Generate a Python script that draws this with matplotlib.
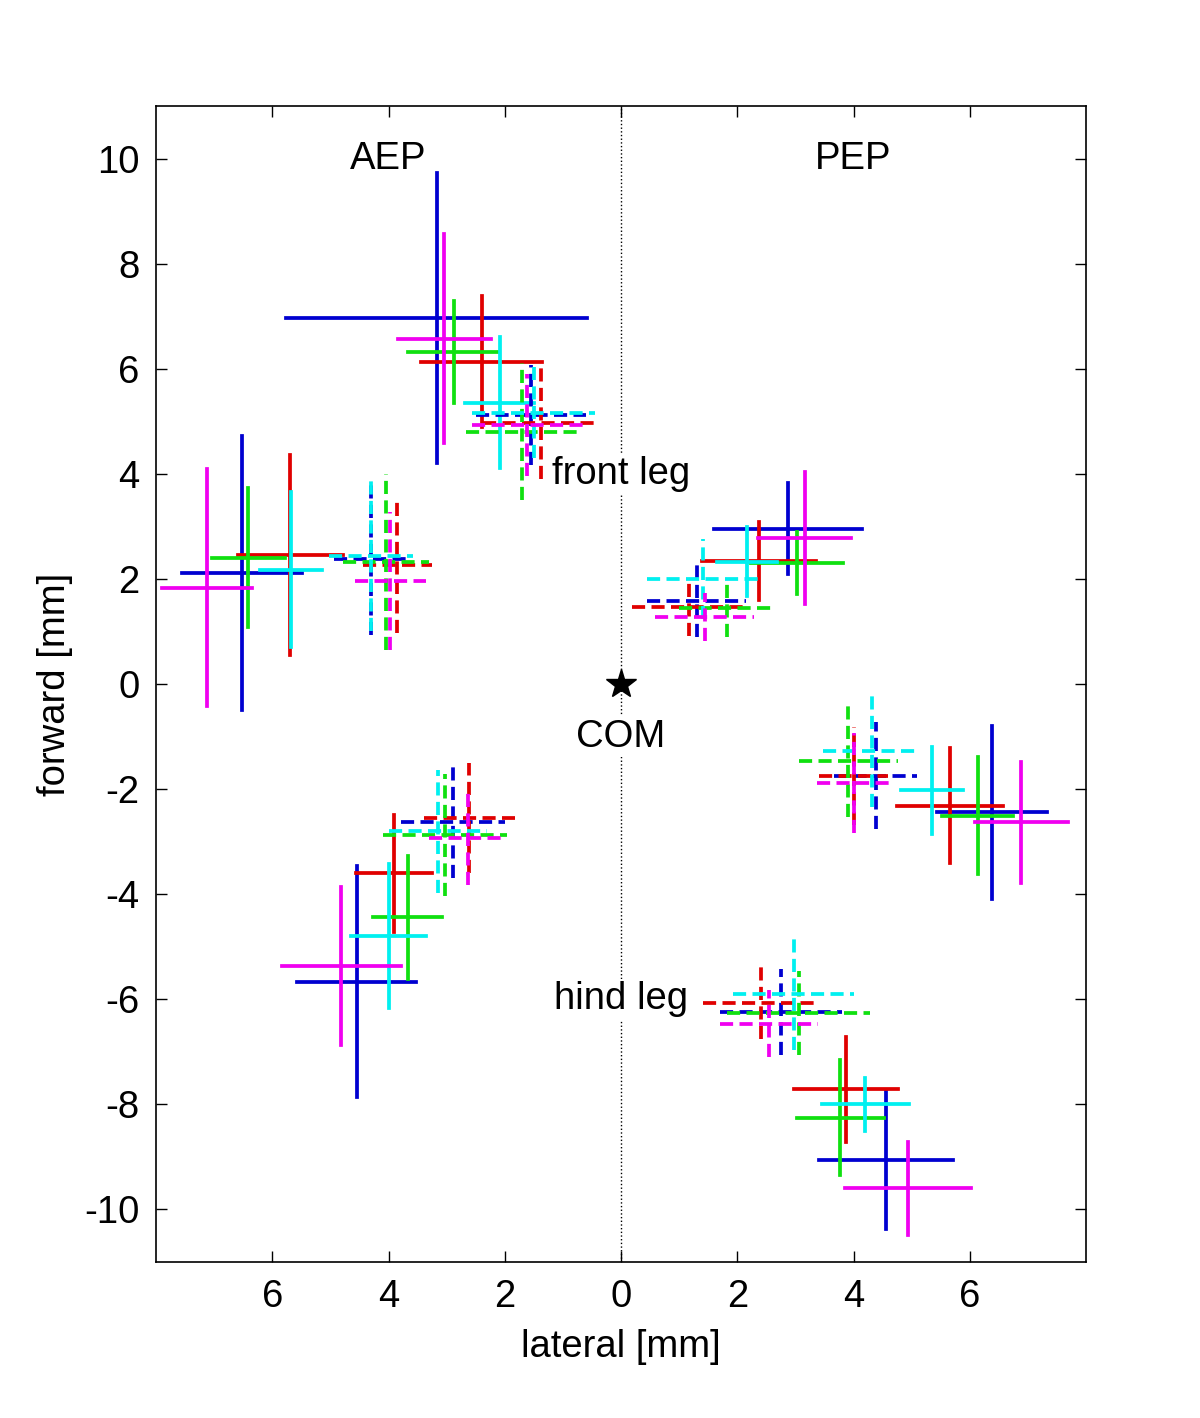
import matplotlib
matplotlib.use("Agg")
import matplotlib.pyplot as plt

plt.rcParams['font.family'] = ['Liberation Sans', 'DejaVu Sans']
plt.rcParams['axes.unicode_minus'] = False

# colour order of every group: blue, red, green, cyan, magenta
colors = ['#0000d0', '#e00000', '#10e010', '#00f0f0', '#f000f0']

# AEP (left half, lateral < 0) -- x, y, half width, half height
aep_front_solid = dict(x=[-3.17, -2.40, -2.88, -2.09, -3.04], y=[6.98, 6.14, 6.33, 5.36, 6.58],
                       sx=[2.59, 1.04, 0.78, 0.59, 0.80], sy=[2.76, 1.25, 0.97, 1.25, 1.99])
aep_front_dash = dict(x=[-1.55, -1.38, -1.70, -1.50, -1.61], y=[5.13, 4.97, 4.81, 5.17, 4.94],
                      sx=[0.94, 1.00, 0.96, 1.06, 0.96], sy=[0.95, 1.07, 1.31, 0.87, 0.97])
aep_mid_solid = dict(x=[-6.52, -5.69, -6.41, -5.68, -7.12], y=[2.12, 2.46, 2.41, 2.18, 1.84],
                     sx=[1.03, 0.90, 0.63, 0.53, 0.78], sy=[2.61, 1.91, 1.33, 1.47, 2.26])
aep_mid_dash = dict(x=[-4.30, -3.85, -4.05, -4.30, -3.97], y=[2.39, 2.27, 2.33, 2.44, 1.96],
                    sx=[0.63, 0.59, 0.74, 0.73, 0.61], sy=[1.45, 1.30, 1.68, 1.42, 1.31])
aep_hind_solid = dict(x=[-4.55, -3.91, -3.67, -4.00, -4.81], y=[-5.66, -3.60, -4.44, -4.79, -5.36],
                      sx=[1.03, 0.65, 0.59, 0.64, 1.02], sy=[2.20, 1.11, 1.17, 1.37, 1.50])
aep_hind_dash = dict(x=[-2.89, -2.61, -3.03, -3.15, -2.64], y=[-2.63, -2.55, -2.87, -2.80, -2.93],
                     sx=[0.89, 0.78, 1.07, 0.85, 0.67], sy=[1.06, 1.05, 1.16, 1.17, 0.89])

# PEP (right half, lateral > 0)
pep_front_solid = dict(x=[2.87, 2.38, 3.03, 2.17, 3.16], y=[2.96, 2.34, 2.30, 2.33, 2.78],
                       sx=[1.27, 0.98, 0.79, 0.52, 0.80], sy=[0.87, 0.74, 0.59, 0.66, 1.25])
pep_front_dash = dict(x=[1.30, 1.17, 1.83, 1.41, 1.44], y=[1.59, 1.46, 1.45, 2.00, 1.28],
                      sx=[0.85, 0.98, 0.84, 0.97, 0.85], sy=[0.69, 0.55, 0.56, 0.76, 0.45])
pep_mid_solid = dict(x=[6.38, 5.66, 6.14, 5.35, 6.89], y=[-2.44, -2.31, -2.50, -2.02, -2.63],
                     sx=[0.95, 0.92, 0.61, 0.53, 0.80], sy=[1.64, 1.09, 1.11, 0.83, 1.15])
pep_mid_dash = dict(x=[4.38, 4.00, 3.91, 4.31, 4.00], y=[-1.74, -1.75, -1.46, -1.27, -1.88],
                    sx=[0.72, 0.60, 0.85, 0.83, 0.62], sy=[1.02, 0.93, 1.06, 1.06, 0.95])
pep_hind_solid = dict(x=[4.56, 3.87, 3.77, 4.20, 4.94], y=[-9.05, -7.71, -8.25, -8.00, -9.60],
                      sx=[1.16, 0.89, 0.75, 0.75, 1.09], sy=[1.33, 1.00, 1.10, 0.51, 0.89])
pep_hind_dash = dict(x=[2.76, 2.41, 3.06, 2.97, 2.55], y=[-6.24, -6.07, -6.26, -5.90, -6.46],
                     sx=[1.05, 1.00, 1.23, 1.04, 0.84], sy=[0.82, 0.69, 0.80, 1.06, 0.63])

solid_groups = [aep_front_solid, aep_mid_solid, aep_hind_solid,
                pep_front_solid, pep_mid_solid, pep_hind_solid]
dash_groups = [aep_front_dash, aep_mid_dash, aep_hind_dash,
               pep_front_dash, pep_mid_dash, pep_hind_dash]

xticks = [-6, -4, -2, 0, 2, 4, 6]
xticklabels = ['6', '4', '2', '0', '2', '4', '6']
yticks = [-10, -8, -6, -4, -2, 0, 2, 4, 6, 8, 10]

fig = plt.figure(figsize=(12, 14.18), dpi=100)
ax = fig.add_axes([0.13, 0.11, 0.775, 0.815])

ax.plot([0, 0], [-11, 11], color='k', linestyle=':', lw=1.0, zorder=1)


def cross(g, ls):
    for i, c in enumerate(colors):
        x, y, sx, sy = g['x'][i], g['y'][i], g['sx'][i], g['sy'][i]
        ax.plot([x - sx, x + sx], [y, y], color=c, lw=2.7, linestyle=ls, zorder=2)
        ax.plot([x, x], [y - sy, y + sy], color=c, lw=2.7, linestyle=ls, zorder=2)


for g in solid_groups:
    cross(g, '-')
for g in dash_groups:
    cross(g, (0, (3.5, 1.7)))

ax.plot([0], [0], marker='*', color='k', markersize=22, zorder=4)

fs = 27.5
box = dict(facecolor='white', edgecolor='none', pad=2)
ax.text(-4, 10, 'AEP', ha='center', va='center', fontsize=fs)
ax.text(4, 10, 'PEP', ha='center', va='center', fontsize=fs)
ax.text(0, 4, 'front leg', ha='center', va='center', fontsize=fs, bbox=box, zorder=3)
ax.text(0, -1, 'COM', ha='center', va='center', fontsize=fs, bbox=box, zorder=3)
ax.text(0, -6, 'hind leg', ha='center', va='center', fontsize=fs, bbox=box, zorder=3)

ax.set_xlim(-8, 8)
ax.set_ylim(-11, 11)
ax.set_xticks(xticks)
ax.set_xticklabels(xticklabels)
ax.set_yticks(yticks)
ax.tick_params(direction='in', length=8, width=1, labelsize=fs, top=True, right=True, pad=12)
for s in ax.spines.values():
    s.set_linewidth(1.2)
ax.set_xlabel('lateral [mm]', fontsize=fs, labelpad=10)
ax.set_ylabel('forward [mm]', fontsize=fs, labelpad=8)

fig.savefig('out.png', dpi=100)
